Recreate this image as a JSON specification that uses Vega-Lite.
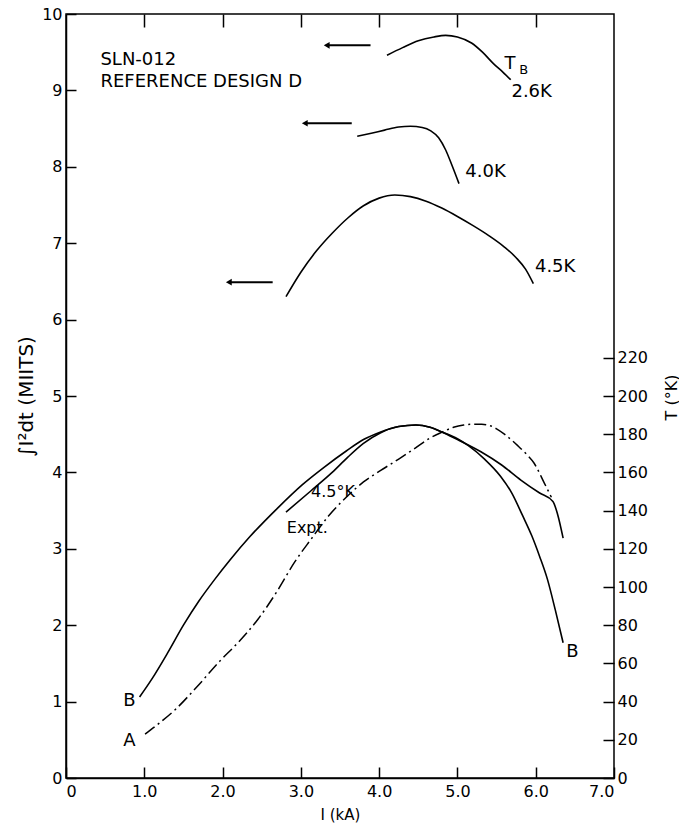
{
  "$schema": "https://vega.github.io/schema/vega-lite/v6.json",
  "width": 548,
  "height": 764,
  "autosize": {"type": "none"},
  "padding": {"left": 66, "top": 14, "right": 65, "bottom": 50},
  "background": "white",
  "config": {
    "view": {"stroke": "black", "strokeWidth": 1.5},
    "font": "DejaVu Sans",
    "axis": {"grid": false, "domainColor": "black", "domainWidth": 1.5, "tickColor": "black", "tickWidth": 1.5, "labelColor": "black", "titleColor": "black", "labelFont": "DejaVu Sans", "titleFont": "DejaVu Sans", "titleFontWeight": "normal"}
  },
  "datasets": {
    "curves": [
      {"curve": "2.6K", "I": 4.1, "M": 9.46}, {"curve": "2.6K", "I": 4.3, "M": 9.56}, {"curve": "2.6K", "I": 4.5, "M": 9.65}, {"curve": "2.6K", "I": 4.7, "M": 9.7}, {"curve": "2.6K", "I": 4.85, "M": 9.72}, {"curve": "2.6K", "I": 5.0, "M": 9.7}, {"curve": "2.6K", "I": 5.18, "M": 9.62}, {"curve": "2.6K", "I": 5.32, "M": 9.5}, {"curve": "2.6K", "I": 5.46, "M": 9.35}, {"curve": "2.6K", "I": 5.58, "M": 9.24}, {"curve": "2.6K", "I": 5.68, "M": 9.14},
      {"curve": "4.0K", "I": 3.72, "M": 8.4}, {"curve": "4.0K", "I": 3.9, "M": 8.44}, {"curve": "4.0K", "I": 4.07, "M": 8.48}, {"curve": "4.0K", "I": 4.25, "M": 8.52}, {"curve": "4.0K", "I": 4.4, "M": 8.53}, {"curve": "4.0K", "I": 4.55, "M": 8.515}, {"curve": "4.0K", "I": 4.66, "M": 8.47}, {"curve": "4.0K", "I": 4.76, "M": 8.38}, {"curve": "4.0K", "I": 4.85, "M": 8.22}, {"curve": "4.0K", "I": 4.93, "M": 8.02}, {"curve": "4.0K", "I": 5.02, "M": 7.78},
      {"curve": "4.5K", "I": 2.81, "M": 6.3}, {"curve": "4.5K", "I": 3.0, "M": 6.62}, {"curve": "4.5K", "I": 3.2, "M": 6.9}, {"curve": "4.5K", "I": 3.4, "M": 7.13}, {"curve": "4.5K", "I": 3.6, "M": 7.33}, {"curve": "4.5K", "I": 3.8, "M": 7.49}, {"curve": "4.5K", "I": 4.0, "M": 7.59}, {"curve": "4.5K", "I": 4.2, "M": 7.63}, {"curve": "4.5K", "I": 4.4, "M": 7.61}, {"curve": "4.5K", "I": 4.6, "M": 7.55}, {"curve": "4.5K", "I": 4.8, "M": 7.46}, {"curve": "4.5K", "I": 5.0, "M": 7.35}, {"curve": "4.5K", "I": 5.2, "M": 7.23}, {"curve": "4.5K", "I": 5.4, "M": 7.1}, {"curve": "4.5K", "I": 5.6, "M": 6.95}, {"curve": "4.5K", "I": 5.75, "M": 6.81}, {"curve": "4.5K", "I": 5.87, "M": 6.66}, {"curve": "4.5K", "I": 5.97, "M": 6.47},
      {"curve": "B", "I": 0.94, "M": 1.06}, {"curve": "B", "I": 1.1, "M": 1.3}, {"curve": "B", "I": 1.3, "M": 1.64}, {"curve": "B", "I": 1.5, "M": 2.0}, {"curve": "B", "I": 1.7, "M": 2.32}, {"curve": "B", "I": 1.9, "M": 2.6}, {"curve": "B", "I": 2.1, "M": 2.86}, {"curve": "B", "I": 2.35, "M": 3.16}, {"curve": "B", "I": 2.7, "M": 3.53}, {"curve": "B", "I": 3.02, "M": 3.84}, {"curve": "B", "I": 3.3, "M": 4.07}, {"curve": "B", "I": 3.58, "M": 4.28}, {"curve": "B", "I": 3.8, "M": 4.43}, {"curve": "B", "I": 4.02, "M": 4.53}, {"curve": "B", "I": 4.25, "M": 4.6}, {"curve": "B", "I": 4.47, "M": 4.62}, {"curve": "B", "I": 4.65, "M": 4.59}, {"curve": "B", "I": 4.8, "M": 4.53}, {"curve": "B", "I": 5.0, "M": 4.44}, {"curve": "B", "I": 5.14, "M": 4.35}, {"curve": "B", "I": 5.35, "M": 4.17}, {"curve": "B", "I": 5.55, "M": 3.95}, {"curve": "B", "I": 5.7, "M": 3.72}, {"curve": "B", "I": 5.83, "M": 3.44}, {"curve": "B", "I": 5.95, "M": 3.17}, {"curve": "B", "I": 6.05, "M": 2.9}, {"curve": "B", "I": 6.15, "M": 2.6}, {"curve": "B", "I": 6.25, "M": 2.2}, {"curve": "B", "I": 6.35, "M": 1.77}
    ],
    "expt": [
      {"I": 2.81, "M": 3.48}, {"I": 3.13, "M": 3.76}, {"I": 3.4, "M": 4.0}, {"I": 3.6, "M": 4.2}, {"I": 3.8, "M": 4.38}, {"I": 4.02, "M": 4.52}, {"I": 4.25, "M": 4.6}, {"I": 4.47, "M": 4.62}, {"I": 4.65, "M": 4.59}, {"I": 4.8, "M": 4.53}, {"I": 5.0, "M": 4.43}, {"I": 5.3, "M": 4.27}, {"I": 5.56, "M": 4.1}, {"I": 5.81, "M": 3.9}, {"I": 6.05, "M": 3.73}, {"I": 6.22, "M": 3.62}, {"I": 6.28, "M": 3.45}, {"I": 6.35, "M": 3.14}
    ],
    "curveA": [
      {"I": 1.01, "T": 23}, {"I": 1.2, "T": 29}, {"I": 1.4, "T": 36}, {"I": 1.7, "T": 49}, {"I": 1.96, "T": 61}, {"I": 2.2, "T": 71}, {"I": 2.45, "T": 83}, {"I": 2.7, "T": 98}, {"I": 2.92, "T": 113}, {"I": 3.13, "T": 125}, {"I": 3.35, "T": 137}, {"I": 3.58, "T": 147}, {"I": 3.8, "T": 155}, {"I": 4.02, "T": 161}, {"I": 4.25, "T": 167}, {"I": 4.47, "T": 173}, {"I": 4.65, "T": 178}, {"I": 4.8, "T": 181}, {"I": 4.95, "T": 183.6}, {"I": 5.08, "T": 184.8}, {"I": 5.2, "T": 185.2}, {"I": 5.31, "T": 185.2}, {"I": 5.42, "T": 184.4}, {"I": 5.5, "T": 182.8}, {"I": 5.6, "T": 180}, {"I": 5.77, "T": 174}, {"I": 5.88, "T": 169.6}, {"I": 5.98, "T": 164.8}, {"I": 6.11, "T": 154.4}, {"I": 6.2, "T": 147}
    ],
    "arrows": [
      {"curve": "2.6K", "I": 3.33, "I2": 3.89, "M": 9.59},
      {"curve": "4.0K", "I": 3.05, "I2": 3.65, "M": 8.57},
      {"curve": "4.5K", "I": 2.08, "I2": 2.64, "M": 6.49}
    ],
    "bigLabels": [
      {"text": "SLN-012", "I": 0.44, "M": 9.4},
      {"text": "REFERENCE DESIGN D", "I": 0.44, "M": 9.11},
      {"text": "T", "I": 5.6, "M": 9.35},
      {"text": "2.6K", "I": 5.69, "M": 8.98},
      {"text": "4.0K", "I": 5.1, "M": 7.93},
      {"text": "4.5K", "I": 5.99, "M": 6.69},
      {"text": "B", "I": 0.73, "M": 1.01},
      {"text": "A", "I": 0.73, "M": 0.49},
      {"text": "B", "I": 6.39, "M": 1.65}
    ],
    "smallLabels": [
      {"text": "4.5°K", "I": 3.13, "M": 3.74},
      {"text": "Expt.", "I": 2.82, "M": 3.27}
    ],
    "subLabels": [
      {"text": "B", "I": 5.79, "M": 9.27}
    ]
  },
  "resolve": {"scale": {"y": "independent"}, "axis": {"x": "independent", "y": "independent"}},
  "layer": [
    {
      "data": {"name": "curves"},
      "mark": {"type": "line", "color": "black", "strokeWidth": 1.6, "interpolate": "monotone"},
      "encoding": {
        "x": {"field": "I", "type": "quantitative", "scale": {"domain": [0, 7], "nice": false},
          "axis": {"orient": "bottom", "values": [0, 1, 2, 3, 4, 5, 6, 7], "labelExpr": "datum.value == 0 ? '0' : format(datum.value, '.1f')", "tickSize": -11, "labelPadding": 16, "labelFontSize": 16, "title": "I (kA)", "titleFontSize": 15, "titlePadding": 8}},
        "y": {"field": "M", "type": "quantitative", "scale": {"domain": [0, 10], "nice": false},
          "axis": {"orient": "left", "values": [0, 1, 2, 3, 4, 5, 6, 7, 8, 9, 10], "tickSize": -10, "labelPadding": 14, "labelFontSize": 16, "title": "∫I²dt (MIITS)", "titleFontSize": 20, "titlePadding": 5}},
        "detail": {"field": "curve"}
      }
    },
    {
      "data": {"name": "curveA"},
      "mark": {"type": "line", "color": "black", "strokeWidth": 1.5, "interpolate": "monotone", "strokeDash": [12, 4, 2, 4]},
      "encoding": {
        "x": {"field": "I", "type": "quantitative", "scale": {"domain": [0, 7], "nice": false},
          "axis": {"orient": "top", "values": [1, 2, 3, 4, 5, 6], "labels": false, "tickSize": -13, "domain": false, "title": null}},
        "y": {"field": "T", "type": "quantitative", "scale": {"domain": [0, 400], "nice": false},
          "axis": {"orient": "right", "values": [0, 20, 40, 60, 80, 100, 120, 140, 160, 180, 200, 220], "tickSize": -11, "labelPadding": 14, "labelFontSize": 16, "domain": false, "title": "T (°K)", "titleFontSize": 16, "titleAngle": 270, "titleX": 57, "titleY": 383, "titleAlign": "center", "titleBaseline": "middle"}}
      }
    },
    {
      "data": {"name": "expt"},
      "mark": {"type": "line", "color": "black", "strokeWidth": 1.6, "interpolate": "monotone"},
      "encoding": {
        "x": {"field": "I", "type": "quantitative", "scale": {"domain": [0, 7], "nice": false}, "axis": null},
        "y": {"field": "M", "type": "quantitative", "scale": {"domain": [0, 10], "nice": false}, "axis": null}
      }
    },
    {
      "data": {"name": "arrows"},
      "mark": {"type": "rule", "color": "black", "strokeWidth": 2},
      "encoding": {
        "x": {"field": "I", "type": "quantitative", "scale": {"domain": [0, 7], "nice": false}, "axis": null},
        "x2": {"field": "I2"},
        "y": {"field": "M", "type": "quantitative", "scale": {"domain": [0, 10], "nice": false}, "axis": null}
      }
    },
    {
      "data": {"name": "arrows"},
      "mark": {"type": "point", "shape": "triangle-left", "filled": true, "color": "black", "size": 45, "opacity": 1},
      "encoding": {
        "x": {"field": "I", "type": "quantitative", "scale": {"domain": [0, 7], "nice": false}, "axis": null},
        "y": {"field": "M", "type": "quantitative", "scale": {"domain": [0, 10], "nice": false}, "axis": null}
      }
    },
    {
      "data": {"name": "bigLabels"},
      "mark": {"type": "text", "align": "left", "baseline": "middle", "fontSize": 18, "color": "black", "font": "DejaVu Sans"},
      "encoding": {
        "x": {"field": "I", "type": "quantitative", "scale": {"domain": [0, 7], "nice": false}, "axis": null},
        "y": {"field": "M", "type": "quantitative", "scale": {"domain": [0, 10], "nice": false}, "axis": null},
        "text": {"field": "text"}
      }
    },
    {
      "data": {"name": "smallLabels"},
      "mark": {"type": "text", "align": "left", "baseline": "middle", "fontSize": 16, "color": "black", "font": "DejaVu Sans"},
      "encoding": {
        "x": {"field": "I", "type": "quantitative", "scale": {"domain": [0, 7], "nice": false}, "axis": null},
        "y": {"field": "M", "type": "quantitative", "scale": {"domain": [0, 10], "nice": false}, "axis": null},
        "text": {"field": "text"}
      }
    },
    {
      "data": {"name": "subLabels"},
      "mark": {"type": "text", "align": "left", "baseline": "middle", "fontSize": 13, "color": "black", "font": "DejaVu Sans"},
      "encoding": {
        "x": {"field": "I", "type": "quantitative", "scale": {"domain": [0, 7], "nice": false}, "axis": null},
        "y": {"field": "M", "type": "quantitative", "scale": {"domain": [0, 10], "nice": false}, "axis": null},
        "text": {"field": "text"}
      }
    }
  ]
}
